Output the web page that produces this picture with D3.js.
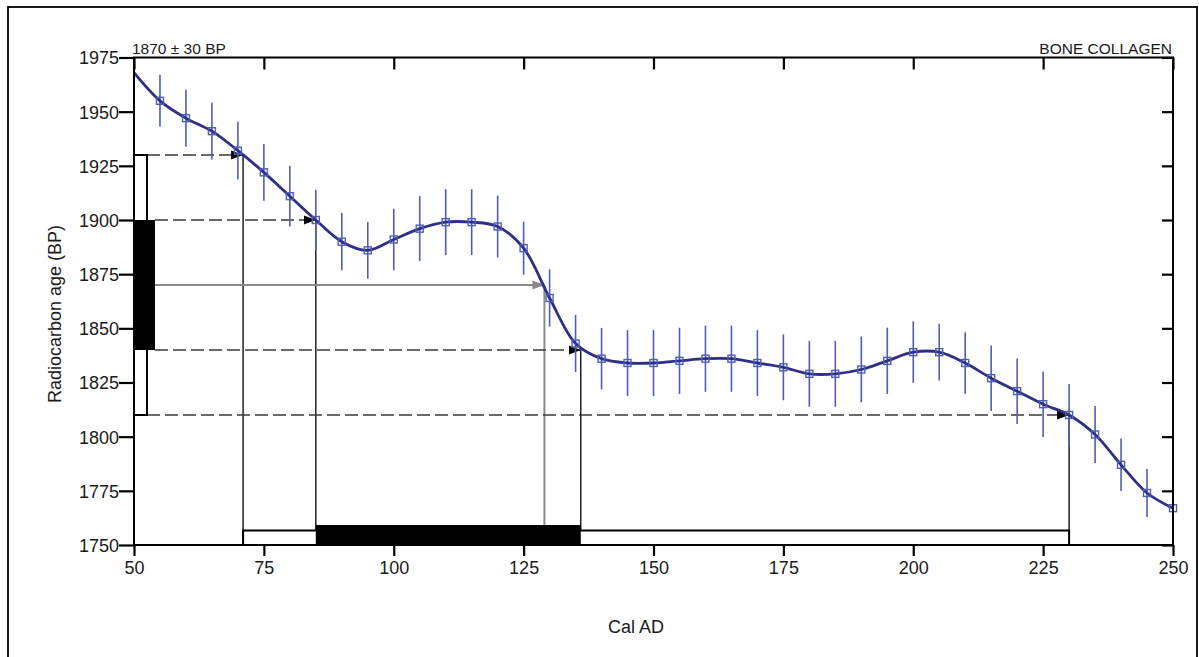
<!DOCTYPE html>
<html><head><meta charset="utf-8">
<script src="https://cdn.jsdelivr.net/npm/d3@7"></script>
<style>
html,body{margin:0;padding:0;background:#fff;}
svg{display:block;font-family:"Liberation Sans",Arial,sans-serif;}
</style></head>
<body>
<svg id="chart" width="1199" height="657"></svg>
<script>
// ---- data ----
const years = [55,60,65,70,75,80,85,90,95,100,105,110,115,120,125,130,135,140,145,150,155,160,165,170,175,180,185,190,195,200,205,210,215,220,225,230,235,240,245,250];
const bpValues = [1955,1947,1941,1932,1922,1911,1900,1890,1886,1891,1896,1899,1899,1897,1887,1864,1843,1836,1834,1834,1835,1836,1836,1834,1832,1829,1829,1831,1835,1839,1839,1834,1827,1821,1815,1810,1801,1787,1774,1767];
const bpErrors = [12,13.2,13.1,13.3,13.1,14,14,13.2,13.1,14.2,15,15.2,15.2,14.3,12.2,13.2,13.2,14.2,15.2,15.2,15.3,15.3,15.3,15.2,15.2,15.2,15.2,15.2,15.3,14.2,13.1,14.2,15.1,15.1,15.1,14.3,13.1,12.1,11.1,0];
const curveStartYear = 50, curveStartBP = 1968;
const xTicks = [50,75,100,125,150,175,200,225,250];
const yTicks = [1750,1775,1800,1825,1850,1875,1900,1925,1950,1975];
const measuredBP = 1870;
const oneSigmaBP = [1840,1900];
const twoSigmaBP = [1810,1930];
const oneSigmaCal = [85,136];
const twoSigmaCal = [71,230];
const interceptCal = 129;
const labelLeft = "1870 ± 30 BP";
const labelRight = "BONE COLLAGEN";
const xTitle = "Cal AD";
const yTitle = "Radiocarbon age (BP)";

// ---- drawing ----
const svg = d3.select("#chart");
const x = d3.scaleLinear().domain([50,250]).range([134,1173]);
const y = d3.scaleLinear().domain([1750,1975]).range([545,57.5]);

// outer frame
svg.append("rect").attr("x",8).attr("y",7).attr("width",1189).attr("height",700)
  .attr("fill","none").attr("stroke","#000").attr("stroke-width",1.8);

const defs = svg.append("defs");
function marker(id,color){
  defs.append("marker").attr("id",id).attr("viewBox","0 0 12 10")
    .attr("refX",12).attr("refY",5).attr("markerWidth",12).attr("markerHeight",10)
    .attr("markerUnits","userSpaceOnUse").attr("orient","auto")
    .append("path").attr("d","M0,0.5 L12,5 L0,9.5 Z").attr("fill",color);
}
marker("arrB","#000");
marker("arrG","#8a8a8a");

// vertical lines from intercepts down to axis
const verts = [[twoSigmaCal[0],twoSigmaBP[1]],[oneSigmaCal[0],oneSigmaBP[1]],[oneSigmaCal[1],oneSigmaBP[0]],[twoSigmaCal[1],twoSigmaBP[0]]];
verts.forEach(([c,b])=>{
  svg.append("line").attr("x1",x(c)).attr("x2",x(c)).attr("y1",y(b)).attr("y2",y(1750))
    .attr("stroke","#000").attr("stroke-width",1.3);
});
svg.append("line").attr("x1",x(interceptCal)).attr("x2",x(interceptCal))
  .attr("y1",y(measuredBP)).attr("y2",y(1750)).attr("stroke","#8a8a8a").attr("stroke-width",2);

// dashed horizontal lines
const leftBracketW = 13, leftBarW = 21;
[[twoSigmaBP[1],twoSigmaCal[0],leftBracketW],[oneSigmaBP[1],oneSigmaCal[0],leftBarW],
 [oneSigmaBP[0],oneSigmaCal[1],leftBarW],[twoSigmaBP[0],twoSigmaCal[1],leftBracketW]].forEach(([b,c,w])=>{
  svg.append("line").attr("x1",x(50)+w).attr("x2",x(c)).attr("y1",y(b)).attr("y2",y(b))
    .attr("stroke","#3a3a3a").attr("stroke-width",1.5).attr("stroke-dasharray","13,5")
    .attr("marker-end","url(#arrB)");
});
// gray mean line
svg.append("line").attr("x1",x(50)+leftBarW).attr("x2",x(interceptCal)).attr("y1",y(measuredBP)).attr("y2",y(measuredBP))
  .attr("stroke","#8a8a8a").attr("stroke-width",2).attr("marker-end","url(#arrG)");

// left bars (BP ranges)
svg.append("rect").attr("x",x(50)).attr("y",y(twoSigmaBP[1])).attr("width",leftBracketW)
  .attr("height",y(twoSigmaBP[0])-y(twoSigmaBP[1])).attr("fill","#fff").attr("stroke","#000").attr("stroke-width",2);
svg.append("rect").attr("x",x(50)).attr("y",y(oneSigmaBP[1])).attr("width",leftBarW)
  .attr("height",y(oneSigmaBP[0])-y(oneSigmaBP[1])).attr("fill","#000");

// bottom bars (cal ranges)
svg.append("rect").attr("x",x(twoSigmaCal[0])).attr("y",y(1750)-14.5).attr("width",x(twoSigmaCal[1])-x(twoSigmaCal[0]))
  .attr("height",14.5).attr("fill","#fff").attr("stroke","#000").attr("stroke-width",2);
svg.append("rect").attr("x",x(oneSigmaCal[0])).attr("y",y(1750)-20).attr("width",x(oneSigmaCal[1])-x(oneSigmaCal[0]))
  .attr("height",20).attr("fill","#000");

// error bars
const pts = years.map((yr,i)=>({yr,bp:bpValues[i],err:bpErrors[i]}));
svg.append("g").selectAll("line").data(pts.filter(d=>d.err>0)).join("line")
  .attr("x1",d=>x(d.yr)).attr("x2",d=>x(d.yr))
  .attr("y1",d=>y(d.bp+d.err)).attr("y2",d=>y(d.bp-d.err))
  .attr("stroke","#4d5fb8").attr("stroke-width",1.6);

// curve
const curvePts = [{yr:curveStartYear,bp:curveStartBP}].concat(pts);
svg.append("path").datum(curvePts)
  .attr("d",d3.line().x(d=>x(d.yr)).y(d=>y(d.bp)).curve(d3.curveCatmullRom.alpha(0.5)))
  .attr("fill","none").attr("stroke","#2f2f86").attr("stroke-width",2.8);

// markers
svg.append("g").selectAll("rect").data(pts).join("rect")
  .attr("x",d=>x(d.yr)-3.5).attr("y",d=>y(d.bp)-3.5).attr("width",7).attr("height",7)
  .attr("fill","none").attr("stroke","#4d5fb8").attr("stroke-width",1.4);

// axes
const axisW = 2;
const gL = svg.append("g").attr("transform",`translate(${x(50)},0)`)
  .call(d3.axisLeft(y).tickValues(yTicks).tickSize(15).tickPadding(0).tickFormat(d3.format("d")));
const gR = svg.append("g").attr("transform",`translate(${x(250)},0)`)
  .call(d3.axisLeft(y).tickValues(yTicks).tickSize(11).tickFormat(""));
const gB = svg.append("g").attr("transform",`translate(0,${y(1750)})`)
  .call(d3.axisBottom(x).tickValues(xTicks).tickSize(11).tickPadding(5).tickFormat(d3.format("d")));
const gT = svg.append("g").attr("transform",`translate(0,${y(1975)})`)
  .call(d3.axisBottom(x).tickValues(xTicks).tickSize(12).tickFormat(""));
[gL,gR,gB,gT].forEach(g=>{
  g.select(".domain").remove();
  g.selectAll(".tick line").attr("stroke","#000").attr("stroke-width",2.2);
  g.selectAll("text").attr("fill","#1a1a1a").attr("font-size",18).attr("font-family","Liberation Sans, Arial, sans-serif");
});
gR.selectAll(".tick line").attr("x2",-11);
gL.selectAll("text").attr("dy","0.36em");
// frame of plot
svg.append("rect").attr("x",x(50)).attr("y",y(1975)).attr("width",x(250)-x(50)).attr("height",y(1750)-y(1975))
  .attr("fill","none").attr("stroke","#000").attr("stroke-width",axisW);

// labels
svg.append("text").attr("x",132).attr("y",54).attr("font-size",15.5).attr("fill","#1a1a1a").text(labelLeft);
svg.append("text").attr("x",1172).attr("y",54).attr("font-size",15.5).attr("fill","#1a1a1a").attr("text-anchor","end").text(labelRight);
svg.append("text").attr("x",636).attr("y",633).attr("font-size",18).attr("fill","#1a1a1a").attr("text-anchor","middle").text(xTitle);
svg.append("text").attr("transform","translate(61,314) rotate(-90)").attr("font-size",18).attr("fill","#1a1a1a")
  .attr("text-anchor","middle").text(yTitle);
</script>
</body></html>
